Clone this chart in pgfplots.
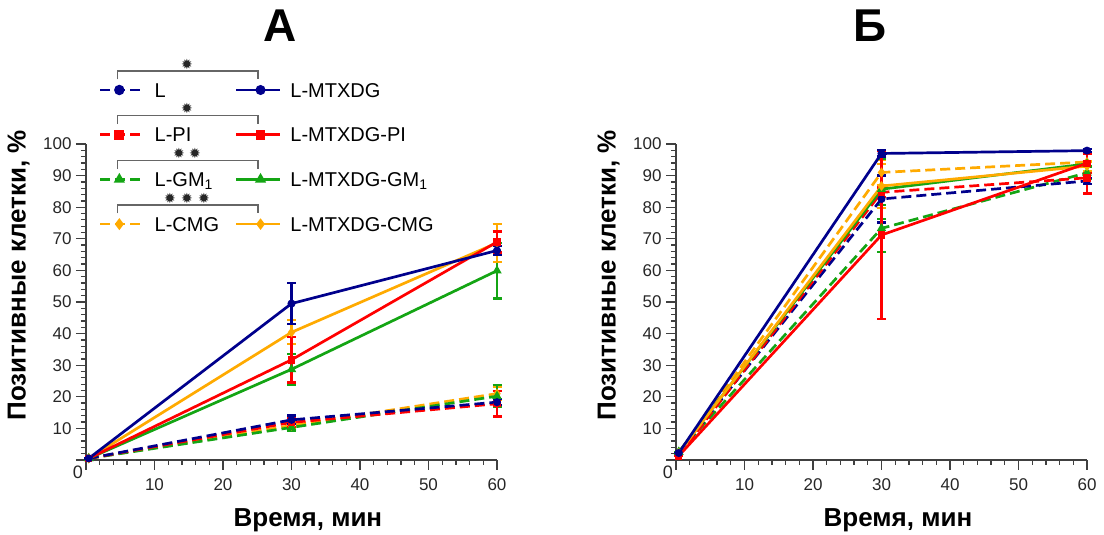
\documentclass[border=0pt]{standalone}
\usepackage{fontspec}
\setmainfont{Liberation Sans}
\newfontfamily\dejavu{DejaVu Sans}
\usepackage{pgfplots}
\usepackage{pgfplotstable}
\pgfplotsset{compat=1.18}

\definecolor{cnavy}{RGB}{0,0,140}
\definecolor{cred}{RGB}{255,0,0}
\definecolor{cgreen}{RGB}{20,165,20}
\definecolor{corange}{RGB}{255,170,0}

% Panel A data: x y err
\pgfplotstableread{
x y e
0.4 0.5 0
30 12.7 1.4
60 18.3 1.0
}\ALd
\pgfplotstableread{
x y e
0.4 0.5 0
30 49.5 6.5
60 66.3 1.5
}\AMd
\pgfplotstableread{
x y e
0.4 0.5 0
30 11.9 1.5
60 17.8 4.0
}\APId
\pgfplotstableread{
x y e
0.4 0.5 0
30 31.7 7.2
60 69.0 3.3
}\AMPId
\pgfplotstableread{
x y e
0.4 0.5 0
30 10.3 1.0
60 20.2 3.5
}\AGMd
\pgfplotstableread{
x y e
0.4 0.5 0
30 28.7 4.8
60 59.9 8.8
}\AMGMd
\pgfplotstableread{
x y e
0.4 0.5 0
30 10.9 1.0
60 21.0 2.0
}\ACMGd
\pgfplotstableread{
x y e
0.4 0.5 0
30 40.4 3.8
60 68.7 6.0
}\AMCMGd
% Panel B data
\pgfplotstableread{
x y e
0.4 2.2 0
30 82.6 7.4
60 88.3 1.0
}\BLd
\pgfplotstableread{
x y e
0.4 2.2 0
30 97.0 1.0
60 97.9 0.5
}\BMd
\pgfplotstableread{
x y e
0.4 1.5 0
30 84.7 1.5
60 89.3 5.0
}\BPId
\pgfplotstableread{
x y e
0.4 1.3 0
30 71.2 26.5
60 93.9 3.0
}\BMPId
\pgfplotstableread{
x y e
0.4 2.5 0
30 73.3 7.4
60 90.9 2.0
}\BGMd
\pgfplotstableread{
x y e
0.4 2.5 0
30 85.7 9.5
60 93.7 1.0
}\BMGMd
\pgfplotstableread{
x y e
0.4 2.2 0
30 91.0 4.0
60 94.3 3.0
}\BCMGd
\pgfplotstableread{
x y e
0.4 2.2 0
30 86.7 7.0
60 93.0 1.5
}\BMCMGd

\pgfplotsset{
  myax/.style={
    width=411pt, height=316pt, scale only axis,
    xmin=0, xmax=60, ymin=0, ymax=100,
    axis lines*=left,
    axis line style={black!75, line width=1.3pt},
    xtick={0,10,...,60}, xticklabels={,10,20,30,40,50,60},
    ytick={0,10,...,100}, yticklabels={,10,20,30,40,50,60,70,80,90,100},
    minor x tick num=4, minor y tick num=4,
    tick align=outside,
    major tick length=10pt, minor tick length=5pt,
    every tick/.style={black!75, line width=1.3pt},
    tick label style={font=\fontsize{17}{18}\selectfont, text=black!85},
    xticklabel style={yshift=-5pt},
    yticklabel style={xshift=-1pt},
    clip=false,
    xlabel={Время, мин},
    xlabel style={at={(axis description cs:0.540,-0.212)}, anchor=base, font=\bfseries\fontsize{26}{30}\selectfont},
    ylabel={Позитивные клетки, \%},
    ylabel style={at={(axis description cs:-0.164,0.585)}, anchor=center, font=\bfseries\fontsize{26}{30}\selectfont},
    title style={at={(axis description cs:0.472,1.304)}, anchor=base, font=\bfseries\fontsize{46}{50}\selectfont},
  },
  lw/.style={line width=2.7pt},
  dsh/.style={dash pattern=on 10pt off 5pt},
  sN/.style={cnavy, lw, mark=*, mark size=2.6pt, mark options={solid}},
  sR/.style={cred, lw, mark=square*, mark size=2.4pt, mark options={solid}},
  sG/.style={cgreen, lw, mark=triangle*, mark size=2.8pt, mark options={solid}},
  sO/.style={corange, lw, mark=diamond*, mark size=2.8pt, mark options={solid}},
  eb/.style={error bars/.cd, y dir=both, y explicit,
    error bar style={solid, line width=2.3pt},
    error mark options={solid, rotate=90, mark size=4.5pt, line width=2.3pt}},
  legdash/.style={legend image code/.code={\draw[mark repeat=2,mark phase=2,mark size=3.8pt,##1] plot coordinates {(0pt,0pt) (19pt,0pt) (44pt,0pt)};}},
  legsolid/.style={legend image code/.code={\draw[mark repeat=2,mark phase=2,##1] plot coordinates {(0pt,0pt) (24.5pt,0pt) (44pt,0pt)};}},
}

\begin{document}
\begin{tikzpicture}
\useasboundingbox (0pt,0pt) rectangle (1104pt,535pt);

\begin{axis}[myax, at={(86pt,75pt)}, anchor=south west, title={А},
  legend columns=2,
  legend cell align=left,
  legend style={draw=none, fill=none, inner sep=0pt, outer sep=0pt,
    at={(axis description cs:0.0316,1.1935)}, anchor=north west,
    column sep=9pt, row sep=30.4pt,
    font=\fontsize{20}{24}\selectfont,
    nodes={inner sep=0pt, text height=14.3pt, text depth=0pt}},
]
\addlegendimage{sN, mark size=3.6pt, dsh, legdash}\addlegendentry{\makebox[71pt][l]{L}}
\addlegendimage{sN, mark size=3.6pt, legsolid}\addlegendentry{L-MTXDG}
\addlegendimage{sR, mark size=3.6pt, dsh, legdash}\addlegendentry{\makebox[71pt][l]{L-PI}}
\addlegendimage{sR, mark size=3.6pt, legsolid}\addlegendentry{L-MTXDG-PI}
\addlegendimage{sG, mark size=3.8pt, dsh, legdash}\addlegendentry{\makebox[71pt][l]{L-GM\textsubscript{1}}}
\addlegendimage{sG, mark size=3.8pt, legsolid}\addlegendentry{L-MTXDG-GM\textsubscript{1}}
\addlegendimage{sO, mark size=3.6pt, dsh, legdash}\addlegendentry{\makebox[71pt][l]{L-CMG}}
\addlegendimage{sO, mark size=3.6pt, legsolid}\addlegendentry{L-MTXDG-CMG}

\addplot[sO, dsh, forget plot, eb] table[x=x, y=y, y error=e] {\ACMGd};
\addplot[sG, dsh, forget plot, eb] table[x=x, y=y, y error=e] {\AGMd};
\addplot[sR, dsh, forget plot, eb] table[x=x, y=y, y error=e] {\APId};
\addplot[sN, dsh, forget plot, eb] table[x=x, y=y, y error=e] {\ALd};
\addplot[sG, forget plot, eb] table[x=x, y=y, y error=e] {\AMGMd};
\addplot[sO, forget plot, eb] table[x=x, y=y, y error=e] {\AMCMGd};
\addplot[sR, forget plot, eb] table[x=x, y=y, y error=e] {\AMPId};
\addplot[sN, forget plot, eb] table[x=x, y=y, y error=e] {\AMd};
\node[font=\fontsize{18}{18}\selectfont, text=black!85] at (axis description cs:-0.0195,-0.038) {0};
\end{axis}

\begin{axis}[myax, at={(676pt,75pt)}, anchor=south west, title={Б}]
\addplot[sO, dsh, forget plot, eb] table[x=x, y=y, y error=e] {\BCMGd};
\addplot[sG, dsh, forget plot, eb] table[x=x, y=y, y error=e] {\BGMd};
\addplot[sN, dsh, forget plot, eb] table[x=x, y=y, y error=e] {\BLd};
\addplot[sR, dsh, forget plot, eb] table[x=x, y=y, y error=e] {\BPId};
\addplot[sG, forget plot, eb] table[x=x, y=y, y error=e] {\BMGMd};
\addplot[sO, forget plot, eb] table[x=x, y=y, y error=e] {\BMCMGd};
\addplot[sR, forget plot, eb] table[x=x, y=y, y error=e] {\BMPId};
\addplot[sN, forget plot, eb] table[x=x, y=y, y error=e] {\BMd};
\node[font=\fontsize{18}{18}\selectfont, text=black!85] at (axis description cs:-0.0195,-0.038) {0};
\end{axis}

% significance brackets of the legend
\begin{scope}[draw=black!60, line width=1.4pt]
\draw (117.5pt,455.5pt) -- (117.5pt,464pt) -- (258pt,464pt) -- (258pt,455.5pt);
\draw (117.5pt,410.8pt) -- (117.5pt,419.3pt) -- (258pt,419.3pt) -- (258pt,410.8pt);
\draw (117.5pt,366.2pt) -- (117.5pt,374.7pt) -- (258pt,374.7pt) -- (258pt,366.2pt);
\draw (117.5pt,321.5pt) -- (117.5pt,330pt) -- (258pt,330pt) -- (258pt,321.5pt);
\end{scope}
\begin{scope}[every node/.style={font=\dejavu\fontsize{14}{14}\selectfont, text=black!85, inner sep=0pt}]
\node at (187pt,471pt) {✹};
\node at (187pt,426.3pt) {✹};
\node at (179pt,381.7pt) {✹};
\node at (195pt,381.7pt) {✹};
\node at (170pt,337pt) {✹};
\node at (187pt,337pt) {✹};
\node at (204pt,337pt) {✹};
\end{scope}
\end{tikzpicture}
\end{document}
